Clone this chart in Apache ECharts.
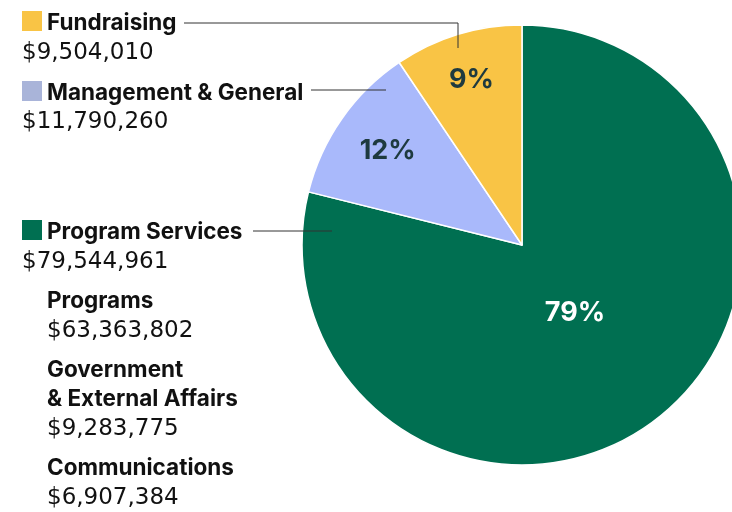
<!DOCTYPE html>
<html><head><meta charset="utf-8">
<script src="https://cdn.jsdelivr.net/npm/echarts@6/dist/echarts.min.js"></script>
<style>html,body{margin:0;padding:0;background:#fff}#c{width:732px;height:512px}</style>
</head><body><div id="c"></div>
<script>
const categories = ['Program Services', 'Management & General', 'Fundraising'];
const values = [79544961, 11790260, 9504010];
const sliceColors = ['#006f51', '#a9b9fb', '#f9c445'];
const legendSwatch = ['#006f51', '#a9b4d9', '#f9c445'];
const labelColors = ['#ffffff', '#1e3a3f', '#1e3a3f'];
const subCategories = ['Programs', 'Government\n& External Affairs', 'Communications'];
const subValues = [63363802, 9283775, 6907384];

const total = values.reduce((a, b) => a + b, 0);
const fmt = v => '$' + v.toLocaleString('en-US');
const BOLD = 'Inter, "Noto Sans", sans-serif';
const REG = '"DejaVu Sans", sans-serif';

const chart = echarts.init(document.getElementById('c'), null, {renderer: 'canvas'});
const center = [522, 245];

const pieData = categories.map((n, i) => ({name: n, value: values[i], itemStyle: {color: sliceColors[i]}}));

function labelSeries(idx, radius) {
  return {
    type: 'pie', center, radius, startAngle: 90, clockwise: true, silent: true,
    z: 5,
    itemStyle: {color: 'rgba(0,0,0,0)', borderWidth: 0},
    labelLine: {show: false},
    emphasis: {disabled: true},
    data: categories.map((n, i) => ({
      name: n, value: values[i],
      label: {
        show: i === idx, position: 'inside',
        formatter: () => Math.round(values[i] / total * 100) + '%',
        color: labelColors[i], fontFamily: BOLD, fontWeight: 'bold', fontSize: 27
      }
    }))
  };
}

// left-side text blocks
const g = [];
function swatch(y, c) { g.push({type: 'rect', z: 100, shape: {x: 22, y: y - 10, width: 20, height: 20}, style: {fill: c}}); }
function txt(x, y, s, bold, size) {
  g.push({type: 'text', z: 100, x, y, style: {text: s, fill: '#111', font: (bold ? 'bold ' + size + 'px ' + BOLD : size + 'px ' + REG), textVerticalAlign: 'middle', textAlign: 'left', lineHeight: 29}});
}
function line(pts) { g.push({type: 'polyline', z: 100, shape: {points: pts}, style: {stroke: '#333', lineWidth: 1, fill: null}}); }

const B = 22.5, R = 23;
// Fundraising (index 2)
swatch(21, legendSwatch[2]); txt(47, 23, categories[2], true, B); txt(22, 53, fmt(values[2]), false, R);
line([[184, 23], [458, 23], [458, 48]]);
// Management (index 1)
swatch(91, legendSwatch[1]); txt(47, 93, categories[1], true, B); txt(22, 122, fmt(values[1]), false, R);
line([[311, 90], [386, 90]]);
// Program Services (index 0)
swatch(230, legendSwatch[0]); txt(47, 232, categories[0], true, B); txt(22, 262, fmt(values[0]), false, R);
line([[253, 231], [332, 231]]);
// sub categories
txt(47, 301, subCategories[0], true, B); txt(47, 331, fmt(subValues[0]), false, R);
txt(47, 385, subCategories[1], true, B); txt(47, 429, fmt(subValues[1]), false, R);
txt(47, 468, subCategories[2], true, B); txt(47, 498, fmt(subValues[2]), false, R);

chart.setOption({
  animation: false,
  backgroundColor: '#fff',
  series: [
    {
      type: 'pie', center, radius: [0, 220], startAngle: 90, clockwise: true, silent: true,
      itemStyle: {borderColor: '#fff', borderWidth: 1.5},
      label: {show: false}, labelLine: {show: false},
      emphasis: {disabled: true},
      data: pieData
    },
    labelSeries(0, [0, 166]),
    labelSeries(1, [0, 322]),
    labelSeries(2, [0, 340])
  ],
  graphic: g
});
</script></body></html>
